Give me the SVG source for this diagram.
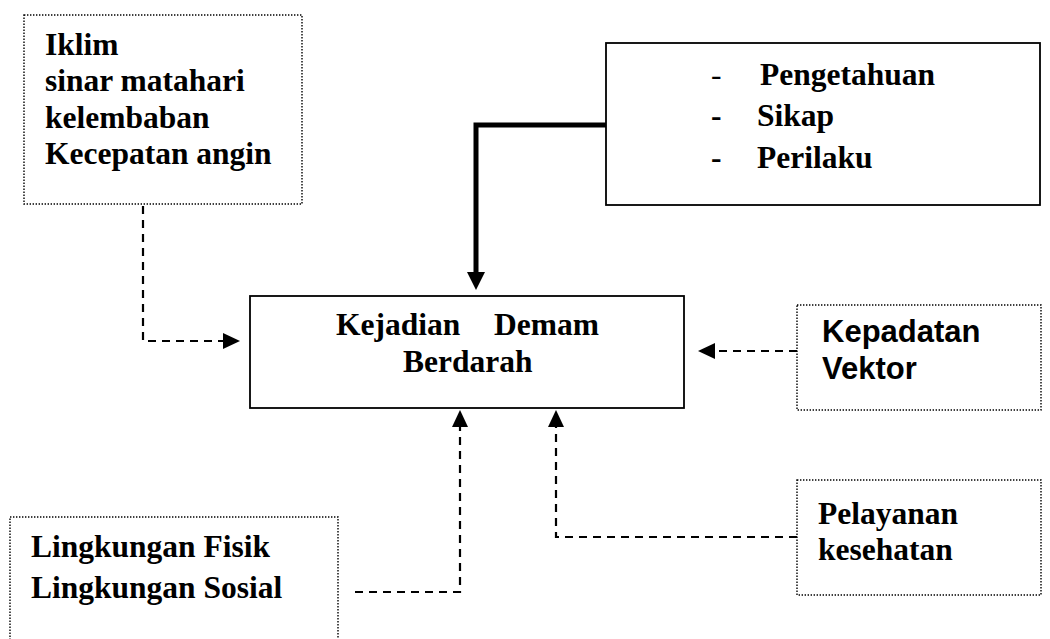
<svg xmlns="http://www.w3.org/2000/svg" width="1050" height="639" viewBox="0 0 1050 639">
<defs>
<style>
.serif{font-family:"Liberation Serif","Times New Roman",serif;font-weight:bold;font-size:31.5px;fill:#000}
.sans{font-family:"Liberation Sans",Arial,sans-serif;font-weight:bold;font-size:31px;fill:#000}
.dot{fill:#fff;stroke:#000;stroke-width:1.4;stroke-dasharray:1.4 1.6}
.solid{fill:#fff;stroke:#000;stroke-width:1.8}
.dash{fill:none;stroke:#000;stroke-width:2.2;stroke-dasharray:8 6}
.thick{fill:none;stroke:#000;stroke-width:5}
</style>
</defs>
<rect width="1050" height="639" fill="#fff"/>

<g id="connectors">
<path class="thick" d="M606,125 H476 V272"/>
<path d="M467,272 L485,272 L476,290 Z" fill="#000"/>
<path class="dash" d="M143,206 V341 H224"/>
<path d="M223,333 L240,341 L223,349 Z" fill="#000"/>
<path class="dash" d="M797,351 H714"/>
<path d="M715,343 L698,351 L715,359 Z" fill="#000"/>
<path class="dash" d="M355,592 H460 V426"/>
<path d="M452,427 L460,410 L468,427 Z" fill="#000"/>
<path class="dash" d="M797,537 H556 V426"/>
<path d="M548,427 L556,410 L564,427 Z" fill="#000"/>
</g>

<g id="iklim">
<rect class="dot" x="24" y="15" width="278" height="189"/>
<text class="serif" x="45" y="55">Iklim</text>
<text class="serif" x="45" y="91">sinar matahari</text>
<text class="serif" x="45" y="128">kelembaban</text>
<text class="serif" x="45" y="164">Kecepatan angin</text>
</g>

<g id="pengetahuan">
<rect class="solid" x="606" y="43" width="434" height="162"/>
<text class="serif" x="711" y="85" style="font-weight:normal">-</text>
<text class="serif" x="760" y="85">Pengetahuan</text>
<text class="serif" x="711" y="126">-</text>
<text class="serif" x="757" y="126">Sikap</text>
<text class="serif" x="711" y="168">-</text>
<text class="serif" x="757" y="168">Perilaku</text>
</g>

<g id="kejadian">
<rect class="solid" x="250" y="296" width="434" height="112"/>
<text class="serif" x="336" y="335">Kejadian</text>
<text class="serif" x="494" y="335">Demam</text>
<text class="serif" x="403" y="372">Berdarah</text>
</g>

<g id="kepadatan">
<rect class="dot" x="797" y="305" width="244" height="105"/>
<text class="sans" x="822" y="342">Kepadatan</text>
<text class="sans" x="822" y="379">Vektor</text>
</g>

<g id="lingkungan">
<rect class="dot" x="10" y="517" width="328" height="140"/>
<text class="serif" x="31" y="557">Lingkungan Fisik</text>
<text class="serif" x="31" y="598">Lingkungan Sosial</text>
</g>

<g id="pelayanan">
<rect class="dot" x="797" y="480" width="244" height="115"/>
<text class="serif" x="818" y="524">Pelayanan</text>
<text class="serif" x="818" y="560">kesehatan</text>
</g>
</svg>
